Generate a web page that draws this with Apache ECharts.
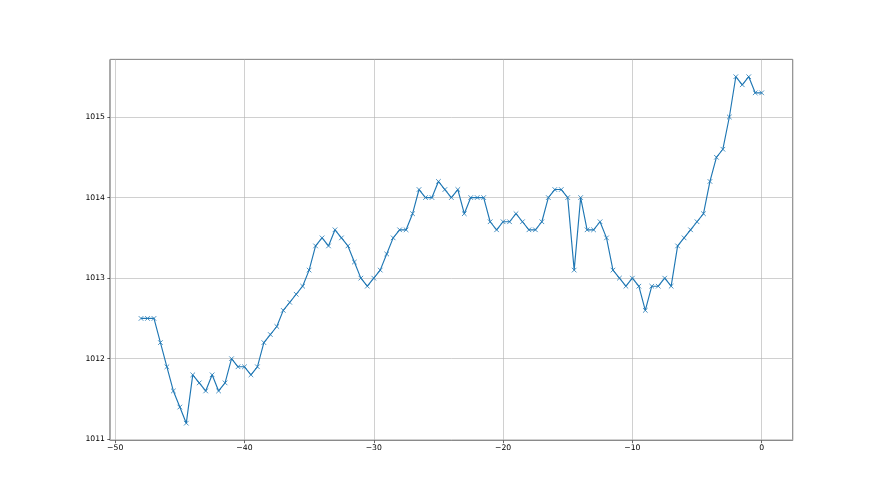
<!DOCTYPE html>
<html>
<head>
<meta charset="utf-8">
<script src="https://cdn.jsdelivr.net/npm/echarts@6/dist/echarts.min.js"></script>
<style>
  html, body { margin: 0; padding: 0; background: #fff; }
  #chart { width: 880px; height: 495px; }
</style>
</head>
<body>
<div id="chart"></div>
<script>
// hours relative to now
var hours = [
  -48, -47.5, -47, -46.5, -46, -45.5, -45, -44.5, -44, -43.5,
  -43, -42.5, -42, -41.5, -41, -40.5, -40, -39.5, -39, -38.5,
  -38, -37.5, -37, -36.5, -36, -35.5, -35, -34.5, -34, -33.5,
  -33, -32.5, -32, -31.5, -31, -30.5, -30, -29.5, -29, -28.5,
  -28, -27.5, -27, -26.5, -26, -25.5, -25, -24.5, -24, -23.5,
  -23, -22.5, -22, -21.5, -21, -20.5, -20, -19.5, -19, -18.5,
  -18, -17.5, -17, -16.5, -16, -15.5, -15, -14.5, -14, -13.5,
  -13, -12.5, -12, -11.5, -11, -10.5, -10, -9.5, -9, -8.5,
  -8, -7.5, -7, -6.5, -6, -5.5, -5, -4.5, -4, -3.5,
  -3, -2.5, -2, -1.5, -1, -0.5, 0
]

// pressure values (hPa)
var pressure = [
  1012.5, 1012.5, 1012.5, 1012.2, 1011.9, 1011.6, 1011.4, 1011.2, 1011.8, 1011.7,
  1011.6, 1011.8, 1011.6, 1011.7, 1012.0, 1011.9, 1011.9, 1011.8, 1011.9, 1012.2,
  1012.3, 1012.4, 1012.6, 1012.7, 1012.8, 1012.9, 1013.1, 1013.4, 1013.5, 1013.4,
  1013.6, 1013.5, 1013.4, 1013.2, 1013.0, 1012.9, 1013.0, 1013.1, 1013.3, 1013.5,
  1013.6, 1013.6, 1013.8, 1014.1, 1014.0, 1014.0, 1014.2, 1014.1, 1014.0, 1014.1,
  1013.8, 1014.0, 1014.0, 1014.0, 1013.7, 1013.6, 1013.7, 1013.7, 1013.8, 1013.7,
  1013.6, 1013.6, 1013.7, 1014.0, 1014.1, 1014.1, 1014.0, 1013.1, 1014.0, 1013.6,
  1013.6, 1013.7, 1013.5, 1013.1, 1013.0, 1012.9, 1013.0, 1012.9, 1012.6, 1012.9,
  1012.9, 1013.0, 1012.9, 1013.4, 1013.5, 1013.6, 1013.7, 1013.8, 1014.2, 1014.5,
  1014.6, 1015.0, 1015.5, 1015.4, 1015.5, 1015.3, 1015.3
]

var chart = echarts.init(document.getElementById('chart'))

var axisFont = { fontFamily: 'DejaVu Sans', fontSize: 7.7, color: '#000' }
var plain = function (v) {
  // matplotlib style: unicode minus, no thousands separator
  return String(v).replace('-', '\u2212')
}

chart.setOption({
  animation: false,
  grid: {
    left: 110,
    right: 87.3,
    top: 59.4,
    bottom: 54.5,
    show: true,
    borderColor: '#262626',
    borderWidth: 0.8
  },
  xAxis: {
    type: 'value',
    min: -50.4,
    max: 2.4,
    minInterval: 10,
    maxInterval: 10,
    axisLine: { show: false, onZero: false },
    axisTick: { show: true, length: 2.7, lineStyle: { color: '#000', width: 0.6 } },
    axisLabel: Object.assign({
      margin: 4,
      showMinLabel: false,
      showMaxLabel: false,
      formatter: plain
    }, axisFont),
    splitLine: { show: true, lineStyle: { color: '#b0b0b0', width: 0.6 } }
  },
  yAxis: {
    type: 'value',
    min: 1010.985,
    max: 1015.715,
    minInterval: 1,
    maxInterval: 1,
    axisLine: { show: false, onZero: false },
    axisTick: { show: true, length: 2.7, lineStyle: { color: '#000', width: 0.6 } },
    axisLabel: Object.assign({
      margin: 5,
      showMinLabel: false,
      showMaxLabel: false,
      formatter: plain
    }, axisFont),
    splitLine: { show: true, lineStyle: { color: '#b0b0b0', width: 0.6 } }
  },
  series: [{
    type: 'line',
    data: hours.map(function (h, i) { return [h, pressure[i]] }),
    lineStyle: { color: '#1f77b4', width: 1.15 },
    symbol: 'path://M0,0L10,10M10,0L0,10',
    symbolSize: 4.6,
    showAllSymbol: true,
    itemStyle: { color: '#1f77b4', borderColor: '#1f77b4', borderWidth: 0.8 }
  }]
})
</script>
</body>
</html>
